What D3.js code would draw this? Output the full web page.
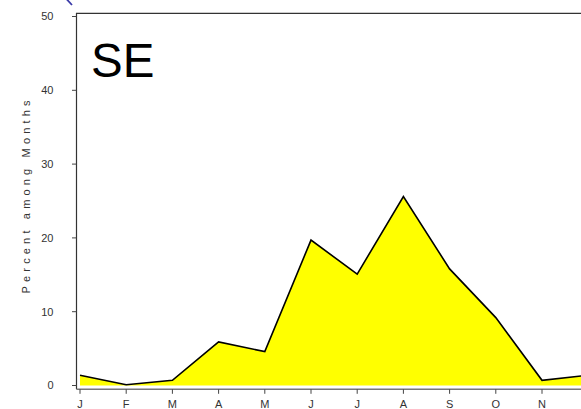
<!DOCTYPE html>
<html>
<head>
<meta charset="utf-8">
<script src="https://cdn.jsdelivr.net/npm/d3@7"></script>
<style>
  body { margin: 0; background: #fff; }
  text { font-family: Arial, "Liberation Sans", sans-serif; }
</style>
</head>
<body>
<div id="chart"></div>
<script>
// Monthly percentages, region SE
const months = ["J", "F", "M", "A", "M", "J", "J", "A", "S", "O", "N", "D"];
const percents = [1.4, 0.1, 0.7, 5.9, 4.6, 19.7, 15.1, 25.6, 15.8, 9.2, 0.7, 1.4];
const yTicks = [0, 10, 20, 30, 40, 50];
const regionLabel = "SE";
const yTitle = "Percent among Months";

const width = 581,
  height = 409;

const svg = d3.select("#chart")
  .append("svg")
  .attr("width", width)
  .attr("height", height);

const x = d3.scaleLinear()
  .domain([0, months.length - 1])
  .range([80, 80 + 11 * 46.2]);

const y = d3.scaleLinear()
  .domain([0, 50])
  .range([385.5, 16.5]);

const frame = { left: 76.5, top: 13.3, bottom: 389.3, right: 596 };

// area + line
const area = d3.area()
  .x((d, i) => x(i))
  .y0(y(0))
  .y1(d => y(d));

const line = d3.line()
  .x((d, i) => x(i))
  .y(d => y(d));

svg.append("path")
  .datum(percents)
  .attr("d", area)
  .attr("fill", "#ffff00");

svg.append("path")
  .datum(percents)
  .attr("d", line)
  .attr("fill", "none")
  .attr("stroke", "#000")
  .attr("stroke-width", 1.6);

// box around plot region
svg.append("path")
  .attr("d", `M${frame.left},${frame.bottom}V${frame.top}H${frame.right}`)
  .attr("fill", "none")
  .attr("stroke", "#333")
  .attr("stroke-width", 1.2);

svg.append("line")
  .attr("x1", frame.left)
  .attr("x2", frame.right)
  .attr("y1", frame.bottom)
  .attr("y2", frame.bottom)
  .attr("stroke", "#777")
  .attr("stroke-width", 1.6);

// x ticks (the December tick falls past the right edge of the picture)
const shown = months.map((m, i) => ({ m, i })).filter(d => x(d.i) + 4 < width);
const xg = svg.append("g");
xg.selectAll("line")
  .data(shown)
  .join("line")
  .attr("x1", d => x(d.i))
  .attr("x2", d => x(d.i))
  .attr("y1", frame.bottom)
  .attr("y2", frame.bottom + 4.5)
  .attr("stroke", "#444");
xg.selectAll("text")
  .data(shown)
  .join("text")
  .attr("x", d => x(d.i))
  .attr("y", 407.5)
  .attr("text-anchor", "middle")
  .attr("font-size", 11)
  .attr("fill", "#333")
  .text(d => d.m);

// y ticks
const yg = svg.append("g");
yg.selectAll("line")
  .data(yTicks)
  .join("line")
  .attr("x1", frame.left - 4.5)
  .attr("x2", frame.left)
  .attr("y1", d => y(d))
  .attr("y2", d => y(d))
  .attr("stroke", "#444");
yg.selectAll("text")
  .data(yTicks)
  .join("text")
  .attr("x", 53.5)
  .attr("y", d => y(d))
  .attr("dy", "0.35em")
  .attr("text-anchor", "end")
  .attr("font-size", 11)
  .attr("fill", "#333")
  .text(d => d);

// y axis title
svg.append("text")
  .attr("transform", "translate(30,197) rotate(-90)")
  .attr("text-anchor", "middle")
  .attr("font-size", 11)
  .attr("fill", "#333")
  .attr("textLength", 193)
  .attr("lengthAdjust", "spacing")
  .text(yTitle);

// region label
svg.append("text")
  .attr("x", 91)
  .attr("y", 76.7)
  .attr("font-size", 47.5)
  .attr("fill", "#000")
  .text(regionLabel);

// clipped fragment in top-left corner
svg.append("line")
  .attr("x1", 66.5).attr("y1", -1)
  .attr("x2", 72).attr("y2", 5)
  .attr("stroke", "#3a3aa8")
  .attr("stroke-width", 1.8);
</script>
</body>
</html>
